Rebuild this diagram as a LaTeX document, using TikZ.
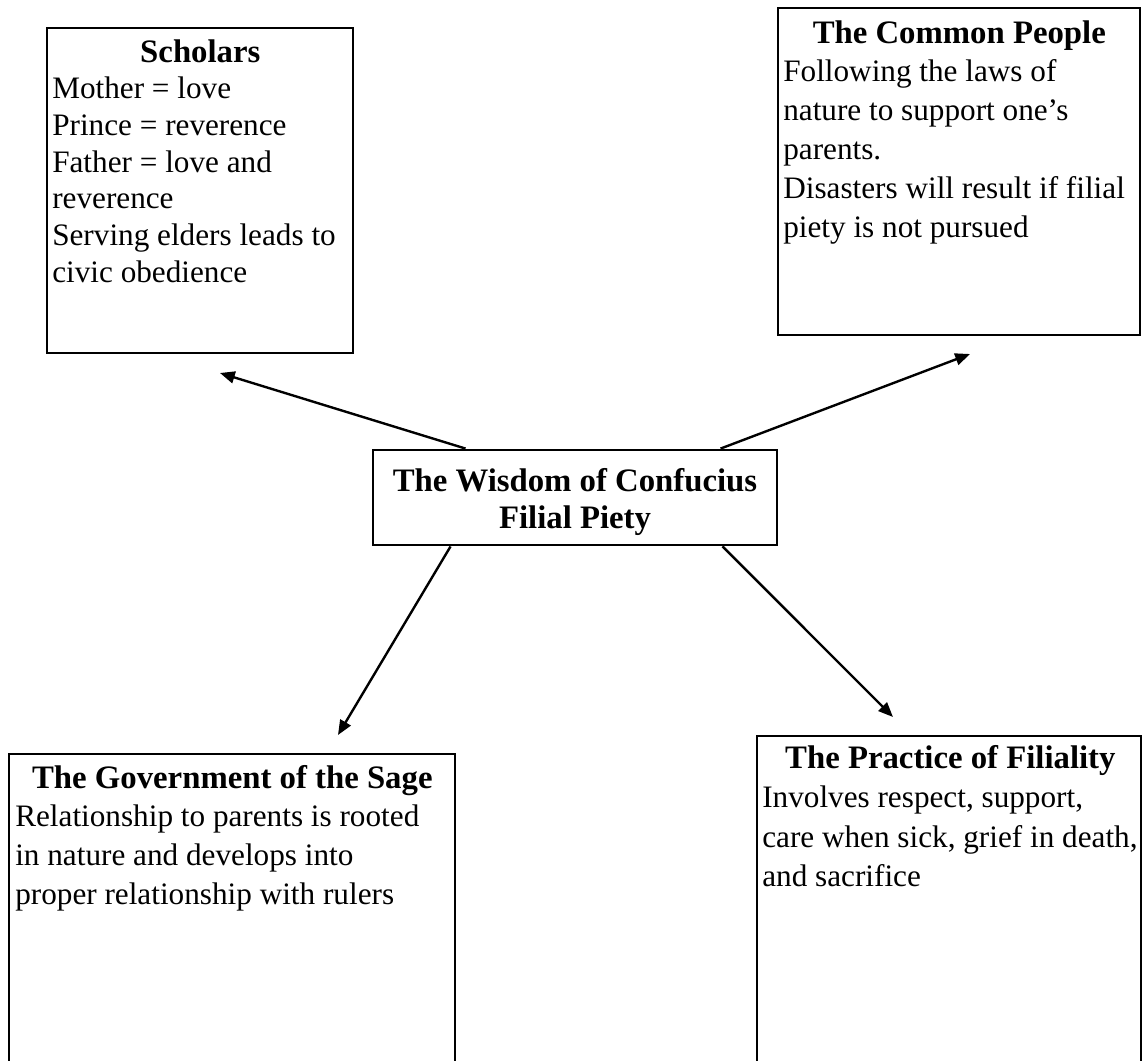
\documentclass[tikz,border=0pt]{standalone}
\usepackage{fontspec}
\setmainfont{Liberation Serif}
\usetikzlibrary{arrows.meta,calc}

\tikzset{
  frame/.style={draw, line width=2pt},
  hub/.style={draw, line width=2pt, align=center, inner sep=0pt,
    minimum width=10.1cm, minimum height=2.375cm,
    font=\fontsize{23.3}{26.3}\selectfont\bfseries},
  boxtext/.style={anchor=base west, inner sep=0pt, align=left, text width=12cm,
    font=\fontsize{22.2}{#1}\selectfont},
  boxtext/.default=27.7pt,
  link/.style={line width=1.7pt, -{Triangle[length=10.5pt,width=8.5pt]}}
}
\newcommand{\boxtitle}[2]{\spaceskip=0pt\relax\xspaceskip=0pt\relax
  \makebox[#1][c]{\fontsize{23.3}{20}\selectfont\bfseries #2}}

\begin{document}
\begin{tikzpicture}[x=0.025cm, y=-0.025cm]
  \useasboundingbox (0,0) rectangle (1147,1061);
  \clip (0,0) rectangle (1147,1061);

  \draw[frame] (47,28) rectangle (353,353);
  \draw[frame] (778,8) rectangle (1140,335);
  \draw[frame] (9,754) rectangle (455,1080);
  \draw[frame] (757,736) rectangle (1141,1080);

  \node[hub] (wisdom) at (575,497.5) {\rule{0pt}{23pt}The Wisdom of Confucius\\Filial Piety};

  \node[boxtext=26.1pt] (scholars) at (52,62)
    {\boxtitle{7.4cm}{Scholars}\\Mother = love\\Prince = reverence\\Father = love and\\reverence\\Serving elders leads to\\civic obedience};
  \node[boxtext] (common) at (783,43)
    {\boxtitle{8.8cm}{The Common People}\\Following the laws of\\nature to support one’s\\parents.\\Disasters will result if filial\\piety is not pursued};
  \node[boxtext] (sage) at (15,788)
    {\boxtitle{10.85cm}{The Government of the Sage}\\Relationship to parents is rooted\\in nature and develops into\\proper relationship with rulers};
  \node[boxtext=28.1pt] (practice) at (762,768)
    {\boxtitle{9.4cm}{The Practice of Filiality}\\Involves respect, support,\\care when sick, grief in death,\\and sacrifice};

  \coordinate (toscholars) at (220,373);
  \coordinate (tocommon) at (970,354);
  \coordinate (tosage) at (338,735);
  \coordinate (topractice) at (893,717);

  \draw[link] ($(wisdom.north west)+(94,0)$) -- (toscholars);
  \draw[link] ($(wisdom.north west)+(349,0)$) -- (tocommon);
  \draw[link] ($(wisdom.south west)+(79,0)$) -- (tosage);
  \draw[link] ($(wisdom.south west)+(351,0)$) -- (topractice);
\end{tikzpicture}
\end{document}
